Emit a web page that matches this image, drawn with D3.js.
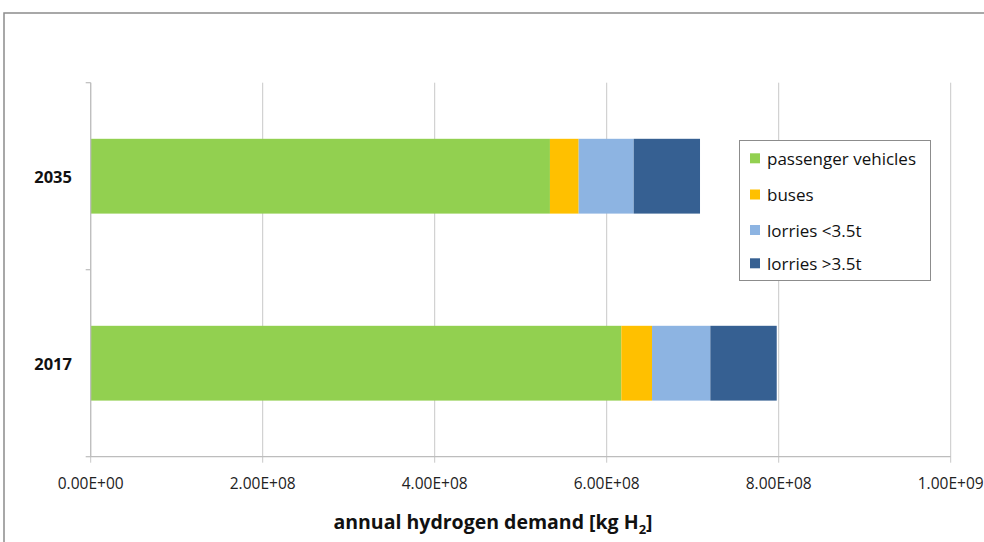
<!DOCTYPE html>
<html><head><meta charset="utf-8">
<script src="https://cdn.jsdelivr.net/npm/d3@7"></script>
<style>body{margin:0;background:#fff;}svg{display:block;}</style>
</head><body>
<script>
const categories = ["2035", "2017"];
const seriesNames = ["passenger vehicles", "buses", "lorries <3.5t", "lorries >3.5t"];
const passenger = [5.34e8, 6.17e8];
const buses = [0.334e8, 0.357e8];
const lorriesSmall = [0.64e8, 0.678e8];
const lorriesLarge = [0.771e8, 0.772e8];
const xTicks = [0, 2e8, 4e8, 6e8, 8e8, 1e9];
const xTickLabels = ["0.00E+00", "2.00E+08", "4.00E+08", "6.00E+08", "8.00E+08", "1.00E+09"];
const colors = ["#92D050", "#FFC000", "#8DB4E2", "#366092"];

const W = 984, H = 542;
const svg = d3.select("body").append("svg").attr("width", W).attr("height", H);
svg.append("rect").attr("x", 4).attr("y", 13).attr("width", W + 10).attr("height", H + 10)
  .attr("fill", "#fff").attr("stroke", "#8c8c8c").attr("stroke-width", 1.5);

const m = {left: 90.7, right: 950.7, top: 82.7, bottom: 456.7};
const x = d3.scaleLinear().domain([0, 1e9]).range([m.left, m.right]);
const y = d3.scaleBand().domain(categories).range([m.top, m.bottom]).paddingInner(0.6).paddingOuter(0.3);

// gridlines
svg.append("g").selectAll("line").data(xTicks).join("line")
  .attr("x1", d => x(d)).attr("x2", d => x(d)).attr("y1", m.top).attr("y2", m.bottom + 6)
  .attr("stroke", "#c8c8c8").attr("stroke-width", 1);

const rows = categories.map((c, i) => ({cat: c, vals: [passenger[i], buses[i], lorriesSmall[i], lorriesLarge[i]]}));
const stackData = rows.map(r => { const o = {cat: r.cat}; seriesNames.forEach((s, j) => o[s] = r.vals[j]); return o; });
const stack = d3.stack().keys(seriesNames)(stackData);
svg.append("g").selectAll("g").data(stack).join("g").attr("fill", (d, i) => colors[i])
  .selectAll("rect").data(d => d).join("rect")
  .attr("x", d => x(d[0])).attr("width", d => x(d[1]) - x(d[0]))
  .attr("y", d => y(d.data.cat)).attr("height", y.bandwidth());

// axes lines
svg.append("line").attr("x1", m.left).attr("x2", m.right).attr("y1", m.bottom).attr("y2", m.bottom)
  .attr("stroke", "#bdbdbd").attr("stroke-width", 1.2);
svg.append("line").attr("x1", m.left).attr("x2", m.left).attr("y1", m.top).attr("y2", m.bottom)
  .attr("stroke", "#bdbdbd").attr("stroke-width", 1.2);
// y ticks
const yTickPos = [m.top, (m.top + m.bottom) / 2, m.bottom];
svg.append("g").selectAll("line").data(yTickPos).join("line")
  .attr("x1", m.left - 5).attr("x2", m.left).attr("y1", d => d).attr("y2", d => d)
  .attr("stroke", "#bdbdbd").attr("stroke-width", 1.2);

// x tick labels
svg.append("g").selectAll("text").data(xTicks).join("text")
  .attr("x", d => x(d)).attr("y", 483).attr("text-anchor", "middle").attr("dominant-baseline", "central")
  .attr("font-family", "Open Sans, sans-serif").attr("font-size", 15.5).attr("fill", "#222")
  .text((d, i) => xTickLabels[i]);

// y labels
svg.append("g").selectAll("text").data(categories).join("text")
  .attr("x", 72).attr("y", d => y(d) + y.bandwidth() / 2).attr("text-anchor", "end").attr("dominant-baseline", "central")
  .attr("font-family", "Open Sans, sans-serif").attr("font-weight", "bold").attr("font-size", 16.5).attr("fill", "#111")
  .text(d => d);

// axis title
const t = svg.append("text").attr("x", 493).attr("y", 529).attr("text-anchor", "middle")
  .attr("font-family", "Open Sans, sans-serif").attr("font-weight", "bold").attr("font-size", 19.5).attr("fill", "#111");
t.append("tspan").text("annual hydrogen demand [kg H");
t.append("tspan").attr("font-size", 13).attr("dy", 5).text("2");
t.append("tspan").attr("dy", -5).text("]");

// legend
const lg = svg.append("g");
lg.append("rect").attr("x", 739.5).attr("y", 140.5).attr("width", 191).attr("height", 140)
  .attr("fill", "#fff").attr("stroke", "#8c8c8c").attr("stroke-width", 1);
const ly = [158.3, 194.5, 230, 263.3];
seriesNames.forEach((s, i) => {
  lg.append("rect").attr("x", 750).attr("y", ly[i] - 5).attr("width", 10).attr("height", 10).attr("fill", colors[i]);
  lg.append("text").attr("x", 767).attr("y", ly[i]).attr("dominant-baseline", "central")
    .attr("font-family", "Open Sans, sans-serif").attr("font-size", 17).attr("fill", "#111").text(s);
});
</script>
</body></html>
